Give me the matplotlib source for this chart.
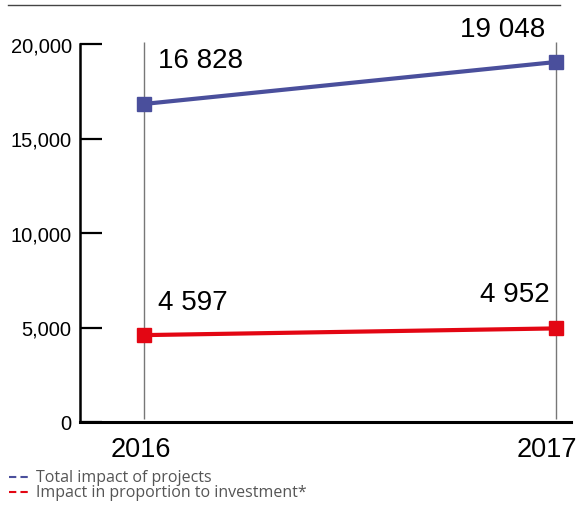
import numpy as np
import matplotlib.pyplot as plt
from matplotlib.lines import Line2D

years = ['2016', '2017']
total_impact = [16828, 19048]
proportional_impact = [4597, 4952]
total_labels = ['16 828', '19 048']
proportional_labels = ['4 597', '4 952']
yticks = [0, 5000, 10000, 15000, 20000]
ytick_labels = ['0', '5,000', '10,000', '15,000', '20,000']

blue = '#4a4f9c'
red = '#e30613'

W, H = 579, 506
fig = plt.figure(figsize=(W / 100, H / 100), dpi=100)
ax = fig.add_axes([80 / W, (H - 423) / H, (571 - 80) / W, (423 - 45) / H])

x = np.arange(len(years))
ax.set_xlim(-64 / 412, (571 - 144) / 412)
ax.set_ylim(0, 20000)

# thin gray guide lines at each year
ax.vlines(x, 150, 20120, color='#777777', lw=1, clip_on=False, zorder=1)

ax.plot(x, total_impact, color=blue, lw=3, marker='s', markersize=9.5, zorder=3, clip_on=False)
ax.plot(x, proportional_impact, color=red, lw=3, marker='s', markersize=9.5, zorder=3, clip_on=False)

font = 'Liberation Sans'
offsets = [((14, 44), 'left'), ((-11, 33), 'right')]
for i in range(len(years)):
    (dx, dy), ha = offsets[i]
    ax.annotate(total_labels[i], (x[i], total_impact[i]), xytext=(dx, dy),
                textcoords='offset pixels', ha=ha, va='center', fontsize=20, family=font)
for i, (dx, dy) in enumerate([(14, 33), (-6, 34)]):
    ha = 'left' if i == 0 else 'right'
    ax.annotate(proportional_labels[i], (x[i], proportional_impact[i]), xytext=(dx, dy),
                textcoords='offset pixels', ha=ha, va='center', fontsize=20, family=font)

ax.set_yticks(yticks)
ax.set_yticklabels(ytick_labels, fontsize=14.5, family=font)
ax.tick_params(axis='y', direction='in', length=16, width=1.6, pad=6)
ax.set_xticks([])

# year labels under the axis
for i, (dx, ha) in enumerate([(-3, 'center'), (21, 'right')]):
    ax.annotate(years[i], (x[i], 0), xytext=(dx, -27), textcoords='offset pixels',
                ha=ha, va='center', fontsize=19.5, family=font, annotation_clip=False)

for s in ['top', 'right']:
    ax.spines[s].set_visible(False)
ax.spines['left'].set_linewidth(1.8)
ax.spines['bottom'].set_linewidth(2.2)

# top rule
fig.add_artist(Line2D([8 / W, 560 / W], [1 - 6 / H, 1 - 6 / H], color='#444444', lw=1))

# legend
for yy, c, label in [(478, blue, 'Total impact of projects'),
                     (493, red, 'Impact in proportion to investment*')]:
    fig.add_artist(Line2D([9 / W, 28 / W], [1 - yy / H, 1 - yy / H], color=c, lw=1.5,
                          ls=(0, (3.5, 2))))
    fig.text(36 / W, 1 - yy / H, label, fontsize=11.5, color='#555555', va='center', family='Open Sans')

fig.savefig('out.png', dpi=100)
